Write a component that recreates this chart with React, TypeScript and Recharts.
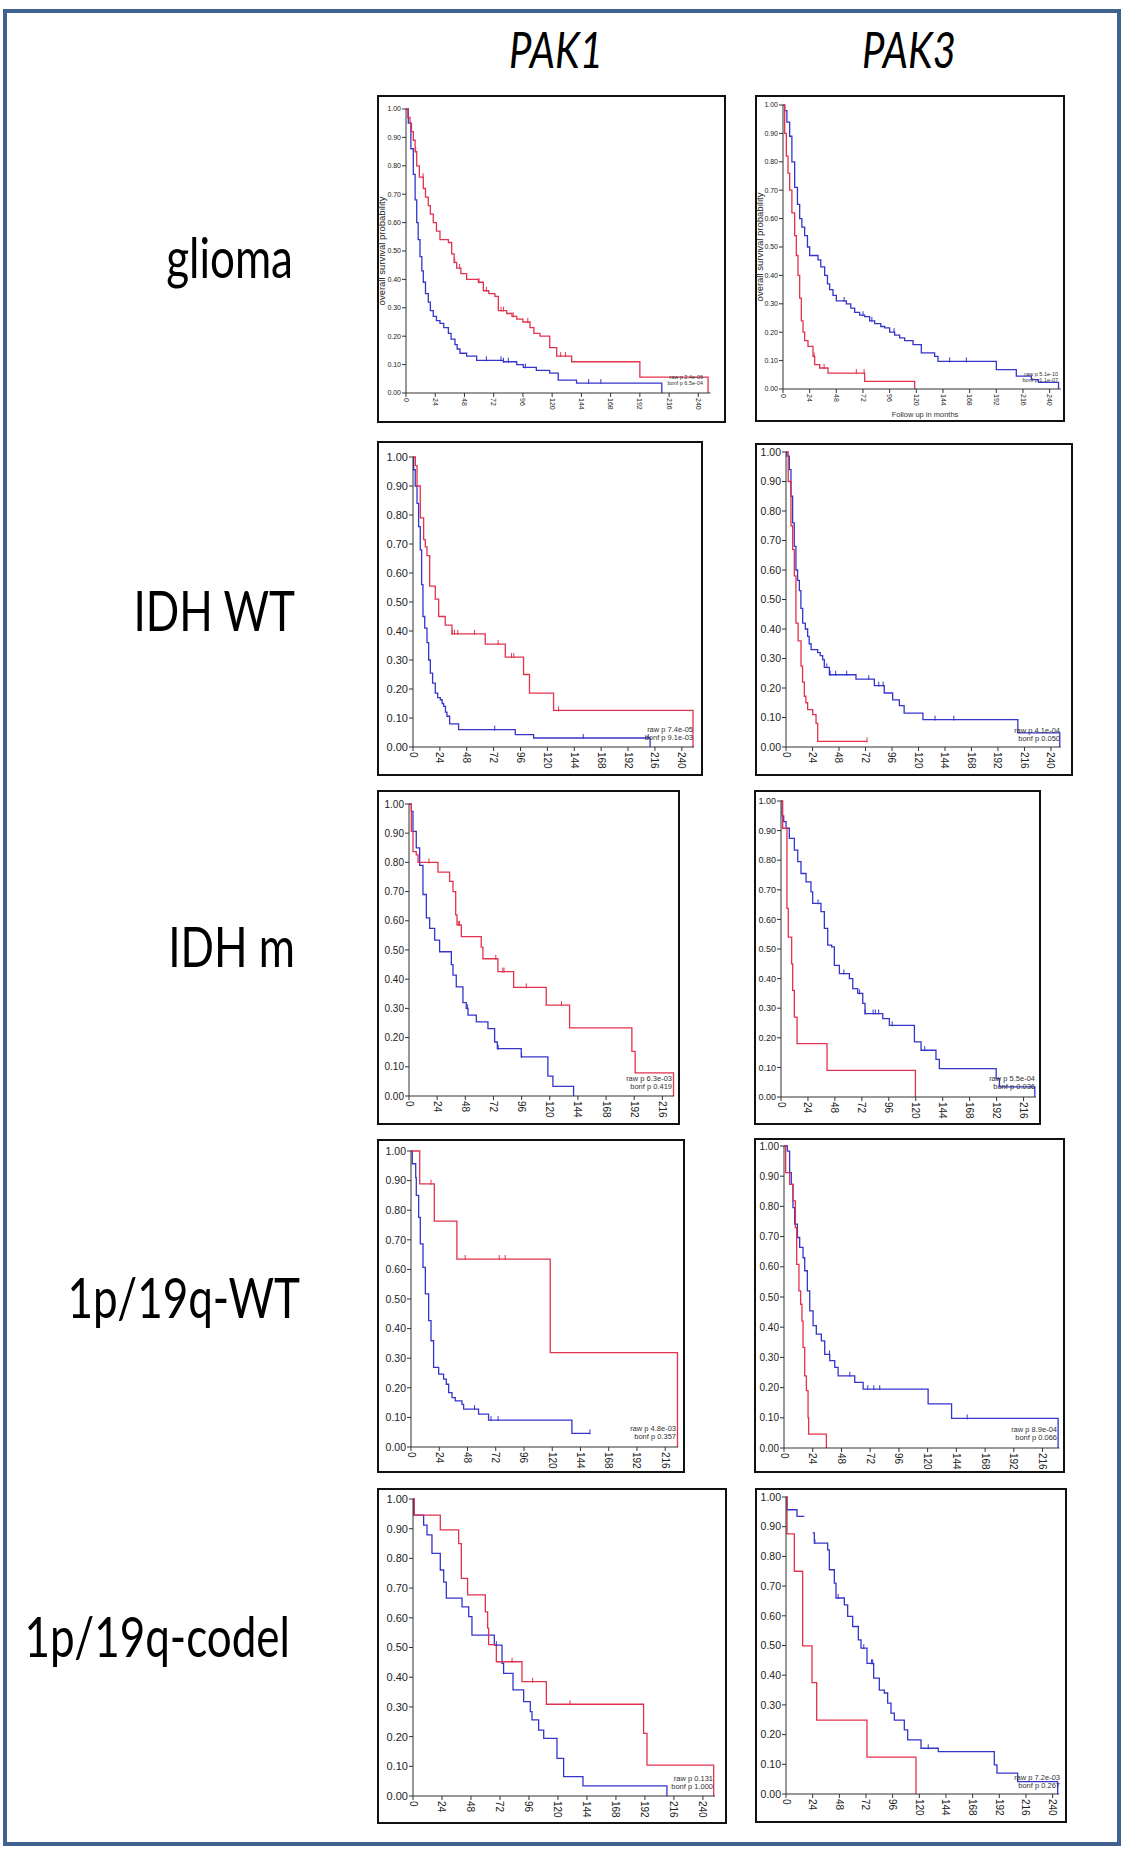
import React from 'react';
import { ComposedChart, Line, Scatter, XAxis, YAxis } from 'recharts';

const RED = '#e3324e';
const BLUE = '#3535cc';
const TICK_FONT = '"Liberation Sans", Arial, sans-serif';

const genes = ['PAK1', 'PAK3'];
const cohorts = ['glioma', 'IDH WT', 'IDH m', '1p/19q-WT', '1p/19q-codel'];
const survTicks = [0, 0.1, 0.2, 0.3, 0.4, 0.5, 0.6, 0.7, 0.8, 0.9, 1];
const monthTicks = [0, 24, 48, 72, 96, 120, 144, 168, 192, 216, 240];

// Kaplan-Meier curves, [month, survival]
const gliomaPak1Red = [[0, 1], [1.5, 0.97], [3.3, 0.95], [4.5, 0.92], [6, 0.89], [7.5, 0.85], [8.8, 0.8], [11, 0.76], [14.2, 0.72], [16, 0.69], [18.3, 0.66], [20, 0.63], [22.4, 0.6], [25, 0.57], [27.9, 0.54], [34.8, 0.53], [37.5, 0.49], [39.5, 0.46], [41.6, 0.44], [45, 0.42], [49.8, 0.4], [59.4, 0.39], [63.5, 0.36], [68, 0.35], [73, 0.34], [75.8, 0.29], [82.7, 0.28], [87, 0.27], [90.9, 0.26], [96, 0.25], [101.8, 0.23], [105, 0.21], [110, 0.2], [118, 0.16], [123.7, 0.13], [136, 0.11], [192, 0.056], [248, 0]];
const gliomaPak1Blue = [[0, 1], [1.9, 0.95], [4, 0.86], [6, 0.77], [7.5, 0.68], [8.8, 0.6], [10, 0.54], [11.5, 0.48], [13, 0.43], [14.2, 0.39], [16, 0.35], [18.3, 0.32], [20, 0.29], [22.4, 0.27], [25, 0.255], [27.9, 0.245], [31, 0.23], [34.8, 0.21], [37, 0.19], [40.2, 0.17], [42, 0.155], [44.3, 0.14], [49.8, 0.13], [58, 0.115], [80, 0.11], [90.9, 0.1], [96.3, 0.09], [107, 0.08], [118, 0.07], [125, 0.045], [140, 0.035], [210, 0]];
const gliomaPak3Red = [[0, 1], [1.5, 0.9], [3, 0.82], [4.5, 0.76], [6, 0.7], [8, 0.62], [10.5, 0.54], [12, 0.47], [13.5, 0.4], [15, 0.32], [16.5, 0.24], [18, 0.2], [19.5, 0.17], [22.5, 0.15], [27, 0.115], [28.5, 0.086], [33, 0.074], [40.5, 0.056], [73.5, 0.027], [118.5, 0]];
const gliomaPak3Blue = [[0, 1], [1.5, 0.98], [3.5, 0.94], [6, 0.89], [8, 0.8], [10.5, 0.71], [13, 0.65], [15, 0.6], [17, 0.57], [19.5, 0.54], [22, 0.5], [24, 0.47], [31.5, 0.455], [34, 0.43], [37.5, 0.4], [40, 0.37], [42, 0.35], [45, 0.33], [48, 0.31], [57, 0.3], [61, 0.285], [64.5, 0.27], [69, 0.26], [73.5, 0.255], [78, 0.24], [82.5, 0.23], [88, 0.22], [91.5, 0.215], [96, 0.2], [100.5, 0.19], [105, 0.18], [109.5, 0.17], [117, 0.156], [124.5, 0.127], [136.5, 0.115], [139.5, 0.097], [192, 0.068], [210, 0.045], [223.5, 0.033], [230, 0.023], [248, 0]];
const idhWtPak1Red = [[0, 1], [2.1, 0.97], [3.6, 0.9], [6.5, 0.79], [9.5, 0.715], [11, 0.69], [12.5, 0.66], [14.9, 0.555], [19.9, 0.51], [22.9, 0.45], [28.8, 0.42], [34.8, 0.39], [64.5, 0.355], [82.4, 0.31], [98.7, 0.25], [104, 0.186], [125.5, 0.126], [250, 0]];
const idhWtPak1Blue = [[0, 1], [0.6, 0.956], [2, 0.9], [3.6, 0.84], [5, 0.76], [6.5, 0.68], [7.7, 0.56], [8.9, 0.45], [10.5, 0.41], [12.5, 0.36], [14, 0.3], [15.5, 0.255], [17.5, 0.22], [19.9, 0.186], [22, 0.17], [24.4, 0.163], [26, 0.15], [27.4, 0.14], [29, 0.12], [30.3, 0.106], [32.7, 0.08], [40.7, 0.06], [91.3, 0.043], [107.7, 0.031], [211.7, 0]];
const idhWtPak3Red = [[0, 1], [2, 0.9], [4.5, 0.75], [6, 0.67], [7.5, 0.58], [9, 0.42], [11, 0.36], [13.6, 0.274], [15, 0.22], [16.6, 0.172], [18, 0.15], [19.6, 0.127], [24.2, 0.11], [27.2, 0.08], [28.7, 0.019], [73.4, 0.019]];
const idhWtPak3Blue = [[0, 1], [0.9, 0.986], [3, 0.94], [4.5, 0.85], [6, 0.76], [7.5, 0.68], [9, 0.6], [10.5, 0.565], [12.1, 0.53], [13.5, 0.47], [15.1, 0.42], [17.5, 0.4], [19.6, 0.375], [21, 0.35], [22.7, 0.33], [28.7, 0.32], [31, 0.31], [33.2, 0.296], [34.7, 0.27], [39.3, 0.245], [63.4, 0.23], [80, 0.208], [89, 0.183], [96.6, 0.16], [102.7, 0.14], [107, 0.115], [124, 0.093], [210, 0.048], [248, 0]];
const idhMPak1Red = [[0, 1], [2, 0.906], [3.4, 0.837], [6.2, 0.826], [7.7, 0.8], [24.7, 0.767], [34.6, 0.735], [37.5, 0.7], [39.8, 0.62], [40.9, 0.586], [44.6, 0.546], [61.6, 0.51], [63, 0.47], [75.8, 0.426], [89.2, 0.372], [117, 0.311], [136.9, 0.233], [190, 0.153], [192.8, 0.079], [225.5, 0]];
const idhMPak1Blue = [[0, 1], [2, 0.975], [3.4, 0.906], [6.2, 0.85], [9.1, 0.79], [11.9, 0.69], [14.8, 0.61], [17.6, 0.574], [21.9, 0.534], [26.1, 0.494], [36.1, 0.45], [37.5, 0.414], [40.3, 0.374], [46, 0.32], [48.8, 0.3], [50.3, 0.277], [57.4, 0.254], [67.3, 0.231], [73, 0.185], [75.3, 0.162], [95.7, 0.134], [118.4, 0.068], [122.7, 0.033], [140.3, 0]];
const idhMPak3Red = [[0, 1], [1.5, 0.908], [5.3, 0.637], [6.5, 0.54], [9.5, 0.45], [10.4, 0.36], [11.9, 0.27], [14.3, 0.18], [41, 0.09], [119.7, 0]];
const idhMPak3Blue = [[0, 1], [1, 0.95], [2.4, 0.93], [4.5, 0.908], [7.4, 0.874], [11.9, 0.834], [14.9, 0.795], [17.8, 0.755], [22.3, 0.727], [26.7, 0.693], [28.2, 0.654], [35.6, 0.626], [38.6, 0.57], [41.6, 0.513], [45.1, 0.507], [47.5, 0.445], [52, 0.417], [60.9, 0.4], [63.9, 0.366], [68.3, 0.35], [72.8, 0.316], [74.8, 0.282], [90.6, 0.265], [96.5, 0.242], [118.8, 0.186], [124.7, 0.158], [138, 0.127], [141, 0.096], [191.6, 0.062], [194.5, 0.034], [226, 0]];
const wtPak1Red = [[0, 1], [7.4, 0.889], [19.8, 0.763], [39, 0.635], [118.3, 0.319], [226.4, 0]];
const wtPak1Blue = [[0, 1], [1.1, 0.957], [4, 0.91], [4.5, 0.85], [6.5, 0.776], [7.9, 0.686], [10.2, 0.607], [12.2, 0.517], [15, 0.427], [17, 0.359], [19.2, 0.269], [23.5, 0.246], [27.7, 0.229], [30, 0.212], [32, 0.184], [34.8, 0.167], [37.6, 0.156], [43.3, 0.144], [44.7, 0.128], [57.4, 0.111], [65.9, 0.091], [136.7, 0.046], [152.3, 0.046]];
const wtPak3Red = [[0, 1], [1.4, 0.912], [4.7, 0.873], [7.5, 0.818], [9.5, 0.73], [10.6, 0.608], [12.5, 0.52], [13.9, 0.476], [15, 0.42], [15.9, 0.333], [17.3, 0.239], [18.7, 0.19], [20.1, 0.1], [20.6, 0.046], [35.4, 0]];
const wtPak3Blue = [[0, 1], [2.8, 0.983], [4.7, 0.912], [6.1, 0.873], [7.5, 0.796], [8.9, 0.741], [11.2, 0.697], [13.1, 0.664], [15.9, 0.63], [17.3, 0.587], [19.5, 0.52], [21.5, 0.454], [24.3, 0.405], [27, 0.377], [31.2, 0.355], [34, 0.31], [38.2, 0.289], [42.4, 0.267], [45.2, 0.239], [59.1, 0.217], [66.1, 0.195], [120.4, 0.146], [140, 0.098], [229, 0]];
const codelPak1Red = [[0, 1], [1.1, 0.946], [22.6, 0.896], [37.8, 0.85], [40, 0.733], [45.2, 0.677], [59.9, 0.62], [61.8, 0.565], [62.6, 0.51], [69, 0.452], [90.2, 0.385], [110.4, 0.309], [190.9, 0.211], [193.7, 0.104], [248.9, 0]];
const codelPak1Blue = [[0, 1], [0.6, 0.946], [8.8, 0.912], [11.6, 0.879], [15.7, 0.817], [22.6, 0.761], [25.4, 0.72], [27.6, 0.666], [40.6, 0.637], [46.1, 0.604], [48.8, 0.542], [67.3, 0.508], [73.7, 0.447], [75, 0.413], [82.8, 0.357], [91.6, 0.318], [97.1, 0.284], [98.5, 0.256], [104, 0.222], [108.2, 0.194], [119.2, 0.127], [124.7, 0.065], [140.7, 0.034], [210.2, 0]];
const codelPak3Red = [[0, 1], [0.9, 0.876], [7.5, 0.75], [15, 0.499], [23.4, 0.375], [27.6, 0.249], [72.9, 0.124], [117, 0]];
const codelPak3Blue = [[0, 1], [0.9, 0.957], [9.9, 0.935], [16.5, 0.935], [17, null], [24, 0.879], [25.5, 0.845], [37.5, 0.822], [39, 0.755], [43.5, 0.71], [45, 0.66], [52.5, 0.637], [55.5, 0.598], [60, 0.564], [65.1, 0.519], [67.5, 0.491], [72.9, 0.44], [78.9, 0.39], [84, 0.35], [88.5, 0.34], [91.5, 0.306], [94.5, 0.272], [97.5, 0.249], [106.5, 0.216], [109.5, 0.182], [121.5, 0.154], [137.1, 0.143], [187.5, 0.098], [189.9, 0.07], [208.5, 0.042], [244.5, 0]];

// censored times (months)
const gliomaPak1RedCens = [8, 14, 40, 44, 60, 66, 78, 80, 88, 100, 127, 131];
const gliomaPak1BlueCens = [66, 78, 80, 84, 98, 150, 160];
const gliomaPak3RedCens = [28, 37, 66, 73];
const gliomaPak3BlueCens = [55, 72, 80, 100, 150, 165];
const idhWtPak1RedCens = [35, 37, 40, 55, 76, 88, 90, 130];
const idhWtPak1BlueCens = [73, 152, 210];
const idhWtPak3RedCens = [73.4];
const idhWtPak3BlueCens = [37, 40, 45, 55, 75, 84, 88, 135, 152];
const idhMPak1RedCens = [17, 42, 43, 74, 80, 81, 100, 130];
const idhMPak1BlueCens = [50, 76, 96];
const idhMPak3BlueCens = [33, 56, 70, 75, 82, 84, 87, 99, 128];
const wtPak1RedCens = [17, 46, 75, 80];
const wtPak1BlueCens = [54, 68, 74, 152];
const wtPak3BlueCens = [38, 55, 70, 75, 80, 153];
const codelPak1RedCens = [82, 99, 130];
const codelPak1BlueCens = [69];
const codelPak3BlueCens = [26, 47, 70, 77, 78, 128];

const pRaw = ['2.4e-06', '5.1e-10', '7.4e-05', '4.1e-04', '6.3e-03', '5.5e-04', '4.8e-03', '8.9e-04', '0.131', '7.2e-03'];
const pBonf = ['6.5e-04', '1.1e-07', '9.1e-03', '0.050', '0.419', '0.036', '0.357', '0.066', '1.000', '0.267'];

const panels = [
  { x: 377, y: 95, w: 349, h: 328, x0: 406, ppm: 1.218, xMax: 250, y1: 109, y0: 393, red: gliomaPak1Red, blue: gliomaPak1Blue, redC: gliomaPak1RedCens, blueC: gliomaPak1BlueCens, px: 703, py: 377, small: true, fsY: 7, yTitle: 382 },
  { x: 755, y: 95, w: 310, h: 327, x0: 783, ppm: 1.111, xMax: 250, y1: 105, y0: 389, red: gliomaPak3Red, blue: gliomaPak3Blue, redC: gliomaPak3RedCens, blueC: gliomaPak3BlueCens, px: 1058, py: 374, small: true, fsY: 7, yTitle: 760 },
  { x: 377, y: 441, w: 326, h: 335, x0: 413, ppm: 1.12, xMax: 251, y1: 457, y0: 747, red: idhWtPak1Red, blue: idhWtPak1Blue, redC: idhWtPak1RedCens, blueC: idhWtPak1BlueCens, px: 693, py: 730, fsY: 11 },
  { x: 755, y: 443, w: 318, h: 333, x0: 786, ppm: 1.104, xMax: 249, y1: 452, y0: 747, red: idhWtPak3Red, blue: idhWtPak3Blue, redC: idhWtPak3RedCens, blueC: idhWtPak3BlueCens, px: 1060, py: 731, fsY: 10.5 },
  { x: 377, y: 790, w: 303, h: 335, x0: 409, ppm: 1.173, xMax: 226, y1: 804, y0: 1096, red: idhMPak1Red, blue: idhMPak1Blue, redC: idhMPak1RedCens, blueC: idhMPak1BlueCens, px: 672, py: 1079, fsY: 10 },
  { x: 754, y: 790, w: 287, h: 335, x0: 781, ppm: 1.123, xMax: 227, y1: 801, y0: 1097, red: idhMPak3Red, blue: idhMPak3Blue, redC: [], blueC: idhMPak3BlueCens, px: 1035, py: 1079, fsY: 9 },
  { x: 377, y: 1139, w: 308, h: 334, x0: 411, ppm: 1.177, xMax: 227, y1: 1151, y0: 1447, red: wtPak1Red, blue: wtPak1Blue, redC: wtPak1RedCens, blueC: wtPak1BlueCens, px: 676, py: 1429, fsY: 10.5 },
  { x: 754, y: 1138, w: 311, h: 335, x0: 784, ppm: 1.197, xMax: 230, y1: 1146, y0: 1448, red: wtPak3Red, blue: wtPak3Blue, redC: [], blueC: wtPak3BlueCens, px: 1057, py: 1430, fsY: 10 },
  { x: 377, y: 1488, w: 350, h: 336, x0: 413, ppm: 1.208, xMax: 250, y1: 1499, y0: 1796, red: codelPak1Red, blue: codelPak1Blue, redC: codelPak1RedCens, blueC: codelPak1BlueCens, px: 713, py: 1779, fsY: 11 },
  { x: 755, y: 1488, w: 312, h: 335, x0: 786, ppm: 1.111, xMax: 246, y1: 1497, y0: 1794, red: codelPak3Red, blue: codelPak3Blue, redC: [], blueC: codelPak3BlueCens, px: 1060, py: 1778, fsY: 10.5 },
];

const labelRight = [293, 295, 295, 300, 290];
const labelBase = [278, 631, 967, 1318, 1657];
const geneCenter = [556, 909];

const toPts = (curve: any[]) => curve.map(([t, s]) => ({ t, s }));

// survival value of the step curve at time t
const survAt = (curve: any[], t: number) => {
  let s = curve[0][1];
  for (const [m, v] of curve) if (m <= t && v != null) s = v;
  return s;
};

const XTick = ({ x, y, payload, fs }: any) => (
  <text x={x} y={y} transform={`rotate(90 ${x} ${y})`} dy={fs * 0.35} textAnchor="start"
    fontSize={fs} fill="#222" fontFamily={TICK_FONT}>
    {payload.value}
  </text>
);

const censorShape = (color: string) => (props: any) => (
  <line x1={props.cx} x2={props.cx} y1={props.cy - 4} y2={props.cy + 1} stroke={color} strokeWidth={1} />
);

const KmPanel = ({ p, i }: any) => {
  const right = p.x + p.w - (p.x0 + p.xMax * p.ppm);
  const fsX = p.small ? 7 : 10;
  const redC = p.redC.map((t: number) => ({ t, s: survAt(p.red, t) }));
  const blueC = p.blueC.map((t: number) => ({ t, s: survAt(p.blue, t) }));
  const pFs = p.small ? 5.5 : 7.5;
  const pGap = p.small ? 6 : 8;
  return (
    <>
      <div style={{ position: 'absolute', left: p.x, top: p.y, width: p.w, height: p.h, border: '2px solid #111', boxSizing: 'border-box', background: '#fff' }} />
      <div style={{ position: 'absolute', left: p.x, top: p.y }}>
        <ComposedChart width={p.w} height={p.h} margin={{ top: p.y1 - p.y, right, bottom: 0, left: 0 }}>
          <XAxis type="number" dataKey="t" domain={[0, p.xMax]} ticks={monthTicks.filter((m) => m <= p.xMax)}
            interval={0} height={p.y + p.h - p.y0} tickSize={4} tickMargin={1} stroke="#333"
            tick={(props: any) => <XTick {...props} fs={fsX} />} />
          <YAxis type="number" domain={[0, 1]} ticks={survTicks} interval={0} width={p.x0 - p.x}
            tickSize={4} tickMargin={1} stroke="#333" tickFormatter={(v: number) => v.toFixed(2)}
            tick={{ fontSize: p.fsY, fill: '#222', fontFamily: TICK_FONT }} />
          <Line data={toPts(p.blue)} dataKey="s" type="stepAfter" stroke={BLUE} strokeWidth={1.3} dot={false} isAnimationActive={false} />
          <Line data={toPts(p.red)} dataKey="s" type="stepAfter" stroke={RED} strokeWidth={1.3} dot={false} isAnimationActive={false} />
          <Scatter data={blueC} dataKey="s" shape={censorShape(BLUE)} isAnimationActive={false} />
          <Scatter data={redC} dataKey="s" shape={censorShape(RED)} isAnimationActive={false} />
        </ComposedChart>
      </div>
      <div style={{ position: 'absolute', right: 1124 - p.px, top: p.py - pGap / 2, fontSize: pFs, lineHeight: `${pGap}px`, fontFamily: TICK_FONT, color: '#333', textAlign: 'right', whiteSpace: 'nowrap' }}>
        <div>raw p {pRaw[i]}</div>
        <div>bonf p {pBonf[i]}</div>
      </div>
      {p.yTitle && (
        <div style={{ position: 'absolute', left: p.yTitle - 80, top: (p.y1 + p.y0) / 2 - 5, width: 160, height: 10, lineHeight: '10px', fontSize: 9.5, fontFamily: TICK_FONT, color: '#222', textAlign: 'center', transform: 'rotate(-90deg)', whiteSpace: 'nowrap' }}>
          overall survival probability
        </div>
      )}
    </>
  );
};

const bigText = (text: string, style: any, italic = false) => (
  <div key={text} style={{ position: 'absolute', fontFamily: 'Lato, "Open Sans", sans-serif', fontSize: 44, lineHeight: '44px', fontStyle: italic ? 'italic' : 'normal', color: '#000', whiteSpace: 'nowrap', transform: 'scaleY(1.27)', transformOrigin: '0 39px', ...style }}>
    {text}
  </div>
);

export default function App() {
  return (
    <div style={{ position: 'absolute', left: 0, top: 0, width: 1124, height: 1849, background: '#fff', overflow: 'hidden' }}>
      <div style={{ position: 'absolute', left: 3, top: 9, width: 1118, height: 1837, border: '4px solid #41628f', boxSizing: 'border-box' }} />
      {genes.map((g, i) => bigText(g, { left: geneCenter[i] - 100, width: 200, textAlign: 'center', top: 71 - 39, fontSize: 40 }, true))}
      {cohorts.map((c, i) => bigText(c, { right: 1124 - labelRight[i], top: labelBase[i] - 39 }))}
      {panels.map((p, i) => <KmPanel key={i} p={p} i={i} />)}
      <div style={{ position: 'absolute', left: 875, top: 410, width: 100, fontSize: 7.5, lineHeight: '9px', fontFamily: TICK_FONT, color: '#333', textAlign: 'center', whiteSpace: 'nowrap' }}>
        Follow up in months
      </div>
    </div>
  );
}
